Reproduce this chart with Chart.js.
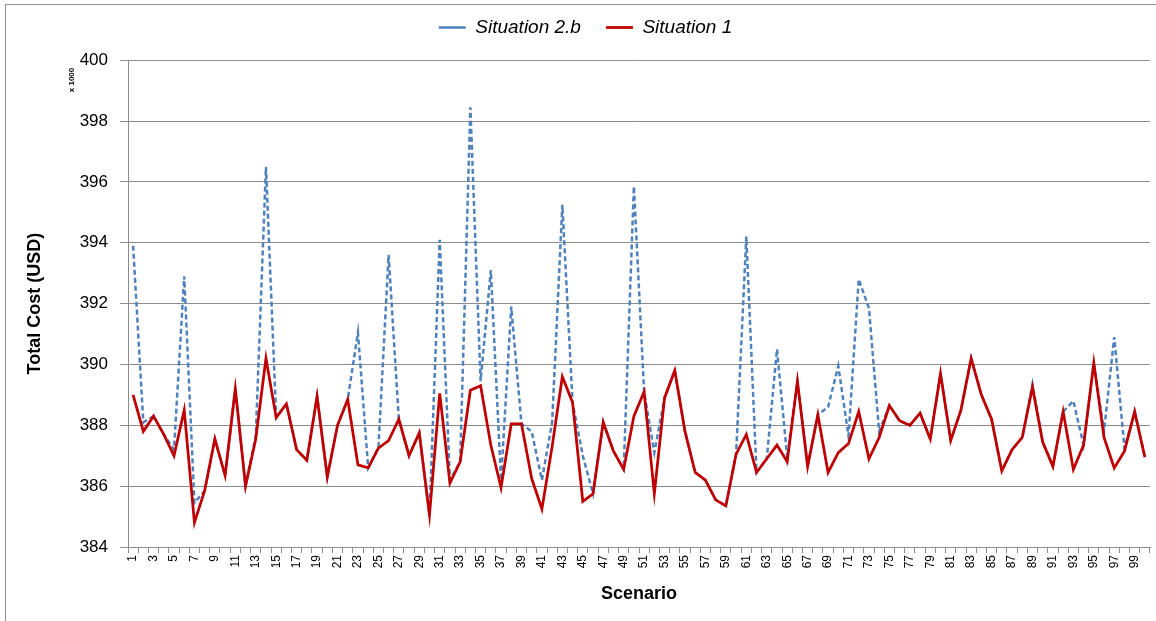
<!DOCTYPE html>
<html lang="en">
<head>
<meta charset="utf-8">
<script src="https://cdn.jsdelivr.net/npm/chart.js"></script>
<style>
  body { margin: 0; background: #fff; }
  .frame { position: absolute; left: 5px; top: 4px; width: 1170px; height: 640px; border: 1px solid #8c8c8c; }
  .chart-box { position: absolute; left: 0; top: 0; width: 1156px; height: 621px; }
</style>
</head>
<body>

<div class="frame"></div>
<div class="chart-box">
    <canvas id="costChart"></canvas>
</div>

<script>
    const scenarios = [];
    for (let i = 1; i <= 100; i++) scenarios.push(String(i));

    // Situation 1 (red solid), values in thousands of USD
    const situation1 = [
        389.0, 387.8, 388.3, 387.7, 387.0, 388.5, 384.8, 385.85, 387.55, 386.35,
        389.2, 386.0, 387.55, 390.2, 388.25, 388.7, 387.2, 386.85, 388.95, 386.3,
        388.0, 388.85, 386.7, 386.6, 387.25, 387.5, 388.2, 387.0, 387.75, 385.05,
        389.05, 386.1, 386.8, 389.15, 389.3, 387.35, 385.95, 388.05, 388.05, 386.25,
        385.25, 387.3, 389.6, 388.75, 385.5, 385.75, 388.1, 387.15, 386.55, 388.3,
        389.1, 385.75, 388.9, 389.8, 387.8, 386.45, 386.2, 385.55, 385.35, 387.05,
        387.7, 386.45, 386.9, 387.35, 386.8, 389.45, 386.65, 388.35, 386.45, 387.1,
        387.4, 388.45, 386.9, 387.6, 388.65, 388.15, 388.0, 388.4, 387.55, 389.7,
        387.5, 388.5, 390.2, 389.0, 388.2, 386.5, 387.2, 387.6, 389.25, 387.45,
        386.65, 388.45, 386.55, 387.35, 390.05, 387.6, 386.6, 387.15, 388.45, 386.95
    ];

    // Situation 2.b (blue dashed)
    const situation2b = [
        393.9, 388.1, 388.3, 387.7, 387.2, 392.9, 385.45, 385.85, 387.55, 386.35,
        389.2, 386.0, 387.65, 396.5, 388.25, 388.7, 387.2, 386.85, 388.95, 386.3,
        388.0, 388.85, 391.05, 386.6, 387.25, 393.6, 388.2, 387.0, 387.75, 385.05,
        394.1, 386.2, 386.8, 398.45, 389.45, 393.1, 386.2, 391.9, 388.05, 387.8,
        386.2, 388.1, 395.25, 388.75, 387.0, 385.75, 388.1, 387.15, 386.55, 395.85,
        389.1, 387.1, 388.9, 389.8, 387.8, 386.45, 386.2, 385.55, 385.35, 387.05,
        394.2, 386.45, 386.9, 390.5, 386.95, 389.45, 386.65, 388.35, 388.6, 389.95,
        387.65, 392.8, 391.85, 387.8, 388.65, 388.15, 388.0, 388.4, 387.55, 389.7,
        387.5, 388.5, 390.2, 389.0, 388.2, 386.5, 387.2, 387.6, 389.35, 387.45,
        386.65, 388.45, 388.8, 387.35, 390.05, 387.8, 390.9, 387.25, 388.45, 386.95
    ];

    const yTicks = [384, 386, 388, 390, 392, 394, 396, 398, 400];

    // small "x 1000" unit label beside the value axis
    const unitLabel = {
        id: 'unitLabel',
        afterDraw(chart) {
            const c = chart.ctx;
            c.save();
            c.translate(72, 80);
            c.rotate(-Math.PI / 2);
            c.font = 'bold 8px "Liberation Sans", Arial, sans-serif';
            c.fillStyle = '#000';
            c.textAlign = 'center';
            c.textBaseline = 'middle';
            c.fillText('x 1000', 0, 0);
            c.restore();
        }
    };

    const ctx = document.getElementById('costChart').getContext('2d');
    const costChart = new Chart(ctx, {
        type: 'line',
        data: {
            labels: scenarios,
            datasets: [{
                label: 'Situation 1',
                data: situation1,
                borderColor: '#C00000',
                backgroundColor: '#C00000',
                borderWidth: 2.75,
                pointRadius: 0,
                tension: 0
            }, {
                label: 'Situation 2.b',
                data: situation2b,
                borderColor: '#4F81BD',
                backgroundColor: '#4F81BD',
                borderWidth: 2.5,
                borderDash: [5, 3],
                pointRadius: 0,
                tension: 0
            }]
        },
        options: {
            responsive: true,
            maintainAspectRatio: false,
            animation: false,
            layout: { padding: { top: -7, right: 6, left: 21, bottom: 0 } },
            plugins: {
                tooltip: { enabled: false },
                legend: {
                    position: 'top',
                    labels: {
                        usePointStyle: true,
                        pointStyle: 'line',
                        pointStyleWidth: 27,
                        boxWidth: 27,
                        boxHeight: 17,
                        padding: 25,
                        color: '#000',
                        font: { family: '"Liberation Sans", Arial, sans-serif', size: 19, style: 'italic' },
                        sort: (a, b) => b.datasetIndex - a.datasetIndex
                    }
                },
                // empty spacer between the legend and the plot area
                subtitle: {
                    display: true,
                    text: '',
                    weight: 500,
                    padding: 0,
                    font: { size: 11 }
                }
            },
            scales: {
                x: {
                    offset: true,
                    grid: {
                        offset: true,
                        drawOnChartArea: false,
                        drawTicks: true,
                        tickLength: 6,
                        color: '#8c8c8c'
                    },
                    border: { color: '#8c8c8c' },
                    ticks: {
                        autoSkip: false,
                        minRotation: 90,
                        maxRotation: 90,
                        padding: 2,
                        color: '#000',
                        font: { family: '"Liberation Sans", Arial, sans-serif', size: 12 },
                        callback: function (val, i) { return i % 2 === 0 ? scenarios[i] : ''; }
                    },
                    title: {
                        display: true,
                        text: 'Scenario',
                        color: '#000',
                        font: { family: '"Liberation Sans", Arial, sans-serif', size: 18, weight: 'bold' },
                        padding: { top: 0, bottom: 16 }
                    },
                    afterFit: function (scale) {
                        scale.height = 74;
                        scale.paddingRight = 0;
                    }
                },
                y: {
                    min: 384,
                    max: 400,
                    afterBuildTicks: function (scale) { scale.ticks = yTicks.map(v => ({ value: v })); },
                    grid: { color: '#8c8c8c', tickLength: 8 },
                    border: { color: '#8c8c8c' },
                    ticks: {
                        padding: 12,
                        color: '#000',
                        font: { family: '"Liberation Sans", Arial, sans-serif', size: 17 }
                    },
                    title: {
                        display: true,
                        text: 'Total Cost (USD)',
                        color: '#000',
                        font: { family: '"Liberation Sans", Arial, sans-serif', size: 18, weight: 'bold' },
                        padding: { top: 3, bottom: 0 }
                    },
                    afterFit: function (scale) { scale.width = 107; }
                }
            }
        },
        plugins: [unitLabel]
    });
</script>
</body>
</html>
